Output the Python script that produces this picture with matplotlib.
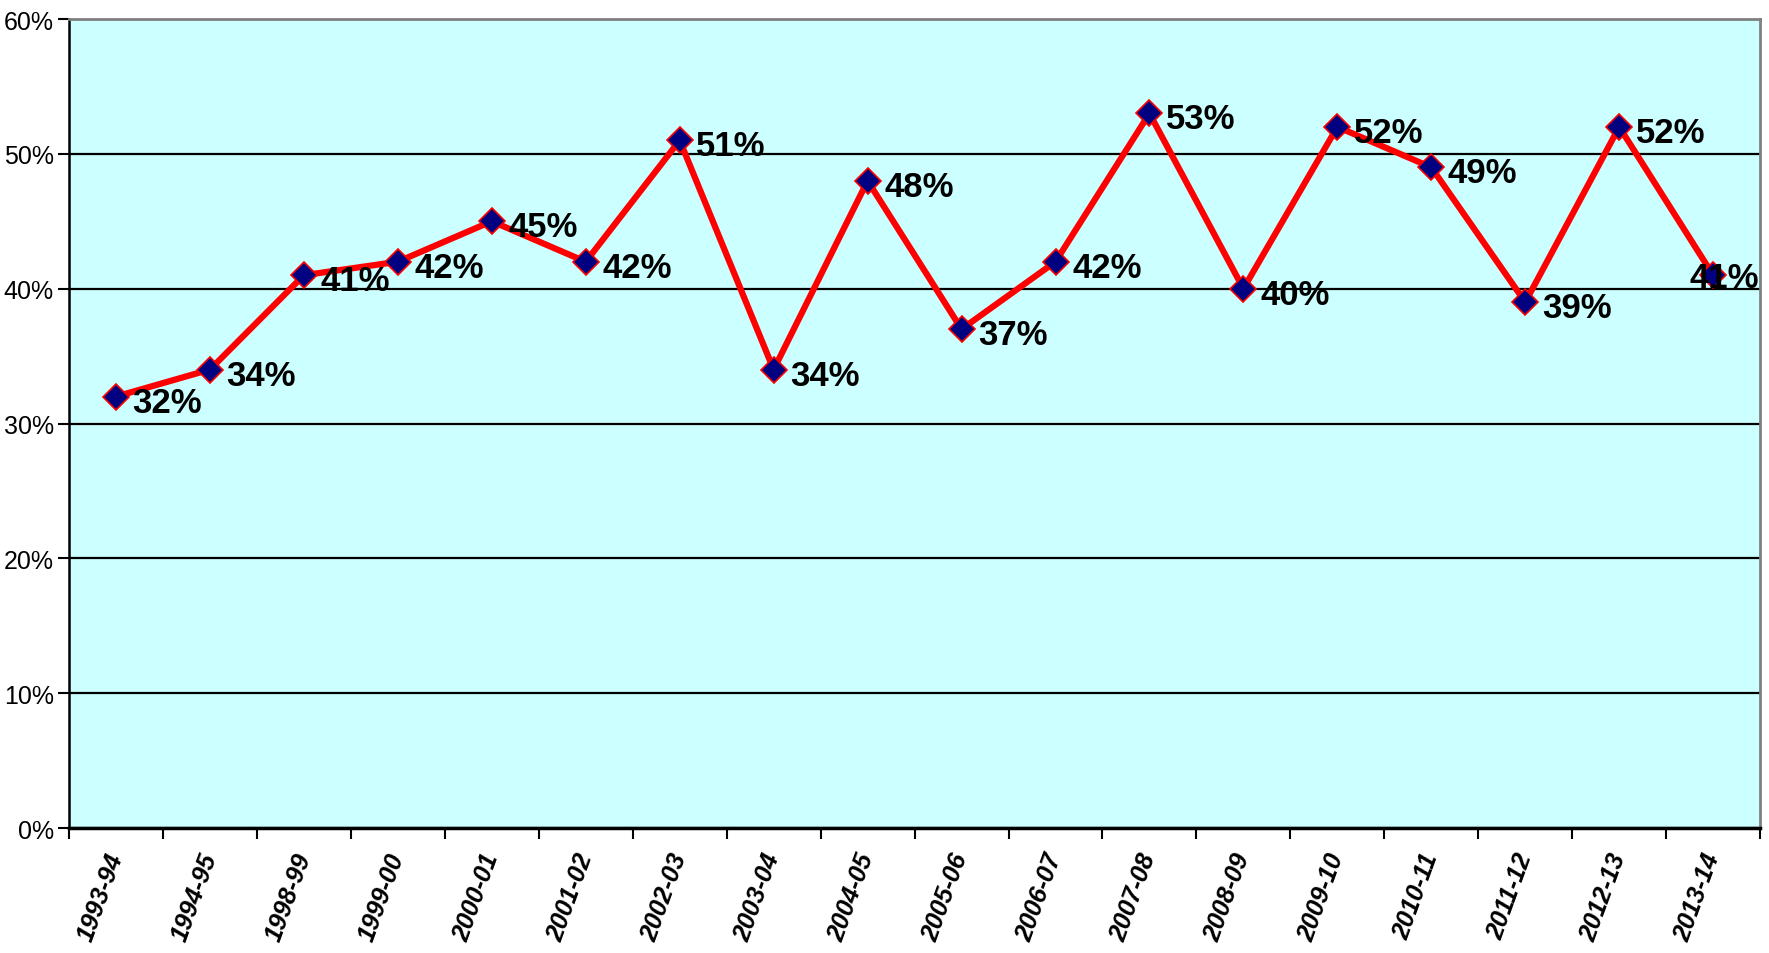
import numpy as np
import matplotlib.pyplot as plt
from matplotlib.ticker import FixedLocator, PercentFormatter

years = ['1993-94', '1994-95', '1998-99', '1999-00', '2000-01', '2001-02',
         '2002-03', '2003-04', '2004-05', '2005-06', '2006-07', '2007-08',
         '2008-09', '2009-10', '2010-11', '2011-12', '2012-13', '2013-14']
share = [32, 34, 41, 42, 45, 42, 51, 34, 48, 37, 42, 53, 40, 52, 49, 39, 52, 41]

narrow = ['Liberation Sans Narrow', 'Liberation Sans', 'DejaVu Sans']

fig = plt.figure(figsize=(17.69, 9.54), dpi=100)
ax = fig.add_axes([0.039, 0.131, 0.956, 0.848])
ax.set_facecolor('#CCFFFF')

x = np.arange(len(years))
ax.plot(x, share, color='#FF0000', lw=4.5, marker='D', ms=13,
        mfc='#000080', mec='#FF0000', mew=1.2, zorder=3)

for i, v in enumerate(share):
    if i == len(share) - 1:
        # last label sits against the right edge of the plot area
        ax.annotate('%d%%' % v, (1, v), xycoords=('axes fraction', 'data'),
                    xytext=(-1, -2), textcoords='offset points',
                    ha='right', va='center', fontsize=25, fontweight='bold',
                    family=narrow, zorder=4)
    else:
        ax.annotate('%d%%' % v, (i, v), xytext=(12, -4), textcoords='offset points',
                    ha='left', va='center', fontsize=25, fontweight='bold',
                    family=narrow, zorder=4)

ax.set_xlim(-0.5, len(years) - 0.5)
ax.set_ylim(0, 60)
ax.yaxis.set_major_locator(FixedLocator(range(0, 61, 10)))
ax.yaxis.set_major_formatter(PercentFormatter(decimals=0))
ax.grid(axis='y', color='black', lw=1.6)
ax.set_axisbelow(True)

ax.set_xticks(x)
ax.set_xticklabels(years, rotation=70, ha='right', va='center',
                   rotation_mode='anchor', fontsize=18, fontweight='bold',
                   fontstyle='italic', family='Liberation Sans')
ax.tick_params(axis='x', which='major', length=0, pad=18)
ax.set_xticks(np.arange(-0.5, len(years)), minor=True)
ax.tick_params(axis='x', which='minor', length=8, width=1.5, direction='out')
ax.tick_params(axis='y', length=8, width=1.5, direction='out', pad=3)
for lab in ax.get_yticklabels():
    lab.set_family(narrow)
    lab.set_fontsize(18)

ax.spines['left'].set_linewidth(1.8)
ax.spines['bottom'].set_linewidth(2.5)
ax.spines['top'].set_color('#808080')
ax.spines['top'].set_linewidth(2)
ax.spines['right'].set_color('#808080')
ax.spines['right'].set_linewidth(2)

plt.savefig('out.png', dpi=100)
